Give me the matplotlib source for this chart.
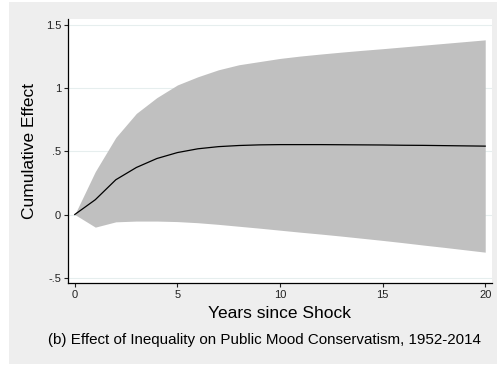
import matplotlib
matplotlib.use("Agg")
import matplotlib.pyplot as plt
from matplotlib.patches import Rectangle

plt.rcParams['font.family'] = ['Liberation Sans', 'DejaVu Sans']

# data
years = list(range(21))
effect = [0, 0.117, 0.275, 0.372, 0.443, 0.49, 0.52, 0.537, 0.546, 0.551, 0.553,
          0.553, 0.553, 0.552, 0.551, 0.550, 0.548, 0.547, 0.545, 0.543, 0.541]
upper = [0, 0.34, 0.61, 0.80, 0.925, 1.025, 1.09, 1.145, 1.185, 1.21, 1.235,
         1.254, 1.27, 1.285, 1.299, 1.312, 1.326, 1.34, 1.354, 1.368, 1.382]
lower = [0, -0.10, -0.058, -0.052, -0.052, -0.056, -0.065, -0.078, -0.093, -0.108, -0.124,
         -0.14, -0.155, -0.171, -0.188, -0.205, -0.223, -0.242, -0.26, -0.279, -0.298]
xticks = [0, 5, 10, 15, 20]
yticks = [-0.5, 0, 0.5, 1, 1.5]
ylabels = ['-.5', '0', '.5', '1', '1.5']

W, H = 500, 366
fig = plt.figure(figsize=(W / 100, H / 100), dpi=100, facecolor='white')
# grey graph region, drawn below the axes
fig.patches.append(Rectangle((9 / W, 2 / H), 488 / W, 362 / H, transform=fig.transFigure,
                             facecolor='#eeeeee', edgecolor='none', zorder=-5))

ax = fig.add_axes([68 / W, 1 - 283 / H, 424 / W, 264 / H])
ax.set_facecolor('white')

ax.fill_between(years, lower, upper, color='#c0c0c0', linewidth=0, zorder=2)
ax.plot(years, effect, color='black', linewidth=0.9, zorder=3)

ax.set_xlim(-0.33, 20.33)
ax.set_ylim(-0.542, 1.547)
ax.set_xticks(xticks)
ax.set_yticks(yticks)
ax.set_yticklabels(ylabels)
ax.grid(axis='y', color='#e6eeee', linewidth=0.8, zorder=1)
ax.set_axisbelow(True)

for s in ['top', 'right']:
    ax.spines[s].set_visible(False)
for s in ['left', 'bottom']:
    ax.spines[s].set_color('black')
    ax.spines[s].set_linewidth(0.9)
ax.tick_params(length=3, width=0.8, labelsize=8, pad=2, colors='#222222')

ax.set_xlabel('Years since Shock', fontsize=12.5, labelpad=4)
ax.set_ylabel('Cumulative Effect', fontsize=12.5, labelpad=6)

fig.text(265 / W, 1 - 340 / H, '(b) Effect of Inequality on Public Mood Conservatism, 1952-2014',
         ha='center', va='center', fontsize=10.9)

fig.savefig('out.png', dpi=100, facecolor=fig.get_facecolor())
